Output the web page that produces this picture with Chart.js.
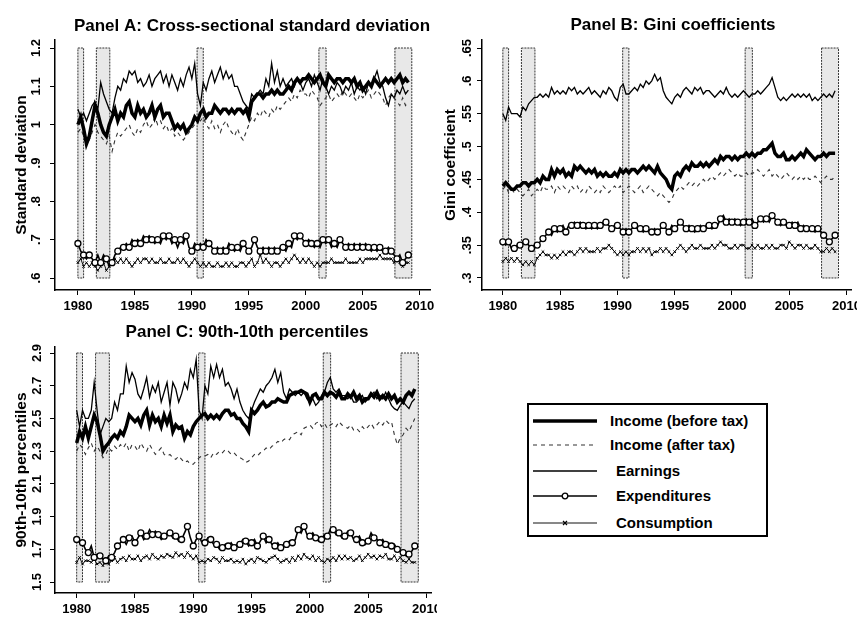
<!DOCTYPE html>
<html>
<head>
<meta charset="utf-8">
<title>Inequality panels</title>
<script src="https://cdn.jsdelivr.net/npm/chart.js@4.4.0/dist/chart.umd.min.js"></script>
<style>
  html, body { margin: 0; padding: 0; background: #fff; }
  body { position: relative; width: 857px; height: 620px; overflow: hidden; }
  canvas { position: absolute; }
  #panelA { left: 0; top: 0; }
  #panelB { left: 440px; top: 0; }
  #panelC { left: 0; top: 310px; }
  #legend {
    position: absolute; left: 527px; top: 403px; width: 237px; height: 130px;
    border: 2px solid #000; background: #fff;
    font: bold 15px "Liberation Sans", Arial, sans-serif; color: #000;
  }
  #legend .row { position: absolute; left: 0; width: 100%; height: 20px; }
  #legend svg { position: absolute; left: 4px; top: 5px; }
  #legend span { position: absolute; top: 0; line-height: 20px; white-space: nowrap; }
</style>
</head>
<body>
<canvas id="panelA" width="436" height="310"></canvas>
<canvas id="panelB" width="417" height="310"></canvas>
<canvas id="panelC" width="437" height="310"></canvas>
<div id="legend"></div>

<script>
// quarterly observations, 1980Q1 - 2009Q1
const quarters = [];
for (let i = 0; i < 117; i++) quarters.push(1980 + i / 4);

const seriesNames = ['Income (before tax)', 'Income (after tax)', 'Earnings', 'Expenditures', 'Consumption'];

const xTickValues = [1980, 1985, 1990, 1995, 2000, 2005, 2010];
const sdTicks = [0.6, 0.7, 0.8, 0.9, 1, 1.1, 1.2];
const giniTicks = [0.3, 0.35, 0.4, 0.45, 0.5, 0.55, 0.6, 0.65];
const pctTicks = [1.5, 1.7, 1.9, 2.1, 2.3, 2.5, 2.7, 2.9];

// NBER recessions (shaded bars)
const recessionStart = [1980.0, 1981.62, 1990.46, 2001.15, 2007.82];
const recessionEnd = [1980.5, 1982.8, 1991.0, 2001.78, 2009.3];

// Panel A: cross-sectional standard deviation
const sdIncome = [
  1.00,1.02,0.99,0.95, 0.97,1.01,1.05,1.03, 1.00,0.98,0.97,1.00,
  1.02,1.04,1.01,1.03, 1.02,1.05,1.06,1.03, 1.02,1.05,1.03,1.04,
  1.02,1.03,1.05,1.02, 1.04,1.05,1.02,1.03, 1.03,1.01,0.99,1.00,
  0.99,1.00,0.98,0.99, 1.00,1.02,1.01,1.03, 1.04,1.02,1.03,1.03,
  1.05,1.04,1.03,1.04, 1.04,1.03,1.04,1.03, 1.04,1.04,1.03,1.04,
  1.02,1.06,1.07,1.08, 1.08,1.07,1.08,1.08, 1.09,1.08,1.09,1.08,
  1.08,1.09,1.10,1.09, 1.11,1.12,1.11,1.12, 1.12,1.13,1.12,1.11,
  1.12,1.13,1.11,1.10, 1.13,1.12,1.11,1.12, 1.12,1.11,1.12,1.12,
  1.11,1.12,1.10,1.11, 1.09,1.10,1.11,1.10, 1.12,1.11,1.10,1.11,
  1.12,1.11,1.12,1.11, 1.12,1.13,1.11,1.12, 1.11
];
const sdAfterTax = [
  0.98,0.99,0.97,0.95, 0.96,0.98,1.00,0.98, 0.97,0.96,0.95,0.97,
  0.93,0.96,0.98,0.97, 0.98,0.99,1.00,0.98, 0.97,0.99,0.98,1.00,
  1.01,0.99,1.00,1.02, 1.00,1.01,0.99,1.00, 0.98,0.99,0.97,0.98,
  0.97,0.96,0.97,0.98, 0.99,1.00,1.02,1.01, 1.02,1.00,0.99,1.01,
  0.99,1.00,0.98,1.00, 1.01,0.99,0.98,0.97, 0.99,0.97,0.96,0.98,
  1.00,1.02,1.01,1.03, 1.02,1.04,1.03,1.02, 1.04,1.03,1.05,1.04,
  1.05,1.06,1.07,1.06, 1.08,1.07,1.09,1.08, 1.08,1.07,1.09,1.08,
  1.07,1.05,1.06,1.07, 1.08,1.06,1.07,1.08, 1.07,1.09,1.08,1.07,
  1.08,1.07,1.06,1.08, 1.07,1.08,1.09,1.07, 1.08,1.09,1.08,1.07,
  1.05,1.07,1.08,1.07, 1.06,1.05,1.07,1.05, 1.06
];
const sdEarnings = [
  1.04,1.02,1.03,1.01, 1.03,1.05,1.06,1.04, 1.11,1.08,1.06,1.04,
  1.03,1.07,1.10,1.09, 1.12,1.11,1.14,1.13, 1.14,1.11,1.12,1.10,
  1.11,1.13,1.10,1.12, 1.13,1.14,1.11,1.13, 1.10,1.13,1.11,1.09,
  1.12,1.10,1.13,1.15, 1.12,1.16,1.08,1.05, 1.11,1.09,1.12,1.14,
  1.11,1.13,1.15,1.12, 1.14,1.12,1.13,1.10, 1.10,1.08,1.06,1.05,
  1.04,1.08,1.07,1.08, 1.09,1.08,1.12,1.10, 1.16,1.11,1.14,1.10,
  1.12,1.10,1.11,1.12, 1.10,1.12,1.11,1.09, 1.11,1.12,1.10,1.13,
  1.11,1.09,1.12,1.10, 1.08,1.10,1.09,1.11, 1.10,1.08,1.10,1.09,
  1.11,1.08,1.10,1.09, 1.10,1.08,1.11,1.10, 1.12,1.14,1.11,1.10,
  1.07,1.05,1.08,1.07, 1.09,1.08,1.10,1.08, 1.09
];
const sdExpend = [
  0.69,0.67,0.66,0.65, 0.66,0.65,0.64,0.66, 0.64,0.66,0.65,0.63,
  0.64,0.66,0.67,0.68, 0.68,0.69,0.68,0.70, 0.69,0.70,0.69,0.71,
  0.70,0.71,0.70,0.69, 0.70,0.69,0.71,0.70, 0.71,0.69,0.70,0.68,
  0.70,0.69,0.71,0.68, 0.67,0.69,0.68,0.69, 0.68,0.70,0.69,0.68,
  0.67,0.68,0.67,0.68, 0.67,0.69,0.68,0.67, 0.68,0.67,0.69,0.68,
  0.67,0.68,0.70,0.68, 0.67,0.68,0.67,0.68, 0.67,0.68,0.67,0.68,
  0.68,0.67,0.69,0.68, 0.71,0.70,0.71,0.70, 0.69,0.70,0.69,0.68,
  0.69,0.68,0.70,0.69, 0.70,0.68,0.69,0.68, 0.70,0.69,0.68,0.69,
  0.68,0.69,0.68,0.69, 0.68,0.69,0.68,0.67, 0.68,0.67,0.68,0.67,
  0.67,0.68,0.67,0.66, 0.65,0.66,0.64,0.65, 0.66
];
const sdConsump = [
  0.64,0.65,0.63,0.64, 0.63,0.64,0.63,0.62, 0.63,0.64,0.62,0.63,
  0.64,0.65,0.64,0.65, 0.64,0.65,0.64,0.63, 0.64,0.65,0.64,0.65,
  0.65,0.64,0.65,0.64, 0.64,0.65,0.64,0.64, 0.65,0.64,0.64,0.65,
  0.64,0.65,0.64,0.63, 0.64,0.65,0.64,0.63, 0.64,0.63,0.64,0.63,
  0.63,0.64,0.63,0.63, 0.64,0.63,0.64,0.63, 0.63,0.64,0.64,0.63,
  0.64,0.65,0.63,0.64, 0.66,0.64,0.65,0.64, 0.63,0.64,0.64,0.63,
  0.64,0.65,0.64,0.65, 0.66,0.65,0.64,0.65, 0.64,0.65,0.64,0.63,
  0.64,0.63,0.64,0.64, 0.64,0.65,0.64,0.64, 0.64,0.64,0.65,0.64,
  0.64,0.64,0.64,0.65, 0.64,0.65,0.65,0.65, 0.65,0.65,0.66,0.65,
  0.65,0.65,0.65,0.64, 0.65,0.64,0.63,0.64, 0.64
];

// Panel B: Gini coefficients
const giniIncome = [
  .44,.445,.44,.435, .435,.44,.44,.445, .445,.44,.445,.445,
  .45,.445,.455,.45, .45,.465,.455,.465, .46,.465,.455,.46,
  .455,.47,.465,.47, .465,.46,.465,.46, .465,.455,.46,.455,
  .46,.455,.455,.46, .455,.465,.46,.465, .46,.465,.465,.46,
  .465,.47,.465,.47, .465,.46,.47,.46, .455,.45,.44,.435,
  .455,.46,.455,.465, .47,.465,.475,.47, .47,.475,.47,.475,
  .47,.475,.48,.475, .485,.48,.485,.485, .48,.485,.48,.485,
  .485,.49,.485,.49, .485,.49,.49,.495, .495,.50,.505,.49,
  .485,.485,.49,.48, .48,.485,.48,.485, .49,.485,.495,.49,
  .485,.48,.485,.485, .49,.485,.49,.49, .49
];
const giniAfterTax = [
  .435,.44,.43,.435, .43,.435,.43,.425, .43,.435,.425,.43,
  .435,.43,.44,.435, .435,.44,.43,.44, .435,.44,.435,.43,
  .44,.435,.44,.43, .435,.43,.44,.435, .43,.435,.43,.44,
  .435,.43,.435,.44, .435,.44,.43,.435, .44,.435,.43,.435,
  .44,.43,.435,.44, .435,.43,.425,.43, .425,.42,.415,.42,
  .43,.435,.44,.435, .44,.445,.44,.445, .44,.445,.45,.445,
  .45,.455,.45,.455, .46,.455,.46,.465, .46,.455,.46,.455,
  .455,.46,.455,.46, .46,.465,.46,.455, .46,.465,.455,.46,
  .455,.45,.455,.46, .455,.45,.455,.45, .455,.45,.455,.45,
  .45,.455,.45,.445, .45,.455,.45,.45, .455
];
const giniEarnings = [
  .55,.54,.56,.55, .55,.55,.545,.56, .555,.565,.57,.575,
  .575,.58,.575,.58, .575,.59,.58,.585, .58,.585,.58,.59,
  .585,.59,.58,.585, .58,.585,.59,.58, .585,.58,.575,.585,
  .58,.59,.585,.575, .57,.59,.595,.58, .58,.585,.59,.585,
  .595,.59,.60,.595, .60,.61,.60,.605, .585,.575,.57,.565,
  .575,.58,.575,.585, .59,.585,.58,.59, .585,.59,.58,.585,
  .585,.58,.575,.58, .585,.58,.59,.58, .575,.58,.575,.58,
  .585,.58,.575,.58, .58,.585,.58,.585, .59,.595,.605,.59,
  .575,.57,.575,.57, .575,.58,.575,.58, .575,.58,.575,.58,
  .57,.575,.57,.575, .58,.575,.58,.575, .585
];
const giniExpend = [
  .355,.35,.355,.345, .345,.35,.35,.355, .355,.35,.345,.35,
  .35,.355,.36,.365, .37,.365,.375,.37, .375,.38,.37,.38,
  .38,.385,.38,.385, .38,.375,.38,.375, .38,.375,.38,.385,
  .385,.38,.375,.38, .38,.375,.37,.375, .37,.375,.38,.375,
  .375,.37,.375,.37, .37,.375,.37,.375, .38,.375,.37,.38,
  .375,.38,.385,.38, .375,.38,.375,.37, .375,.38,.375,.38,
  .38,.375,.38,.38, .39,.395,.385,.39, .385,.39,.385,.38,
  .385,.39,.385,.39, .38,.385,.39,.385, .39,.385,.395,.39,
  .385,.38,.385,.38, .38,.385,.38,.385, .375,.38,.375,.375,
  .375,.37,.375,.37, .365,.36,.355,.36, .365
];
const giniConsump = [
  .325,.33,.325,.33, .325,.33,.325,.32, .325,.32,.325,.32,
  .33,.335,.34,.335, .335,.33,.335,.33, .335,.34,.335,.34,
  .34,.335,.34,.345, .34,.345,.34,.34, .34,.345,.34,.345,
  .345,.35,.345,.34, .335,.34,.335,.34, .335,.34,.34,.345,
  .34,.345,.34,.345, .335,.34,.34,.345, .34,.345,.34,.335,
  .34,.345,.35,.345, .34,.345,.35,.345, .345,.35,.345,.345,
  .345,.35,.345,.35, .355,.35,.35,.345, .345,.35,.345,.35,
  .35,.345,.345,.35, .345,.35,.345,.345, .35,.345,.35,.345,
  .345,.35,.35,.345, .355,.35,.345,.35, .35,.345,.35,.345,
  .345,.35,.345,.34, .34,.345,.34,.345, .34
];

// Panel C: 90th-10th percentiles
const pctIncome = [
  2.35,2.42,2.38,2.45, 2.38,2.45,2.52,2.48, 2.40,2.30,2.33,2.35,
  2.38,2.40,2.38,2.42, 2.40,2.45,2.52,2.50, 2.48,2.50,2.46,2.52,
  2.55,2.46,2.52,2.48, 2.50,2.45,2.52,2.47, 2.52,2.42,2.46,2.44,
  2.45,2.38,2.42,2.40, 2.45,2.48,2.50,2.52, 2.53,2.50,2.52,2.50,
  2.52,2.50,2.53,2.55, 2.55,2.52,2.53,2.50, 2.50,2.47,2.45,2.42,
  2.55,2.53,2.55,2.58, 2.60,2.57,2.58,2.60, 2.60,2.62,2.61,2.60,
  2.60,2.64,2.65,2.66, 2.66,2.67,2.66,2.65, 2.60,2.64,2.65,2.62,
  2.62,2.66,2.64,2.66, 2.65,2.63,2.66,2.62, 2.62,2.65,2.63,2.66,
  2.62,2.64,2.60,2.62, 2.62,2.65,2.63,2.66, 2.62,2.64,2.62,2.65,
  2.62,2.64,2.60,2.62, 2.60,2.64,2.66,2.64, 2.68
];
const pctAfterTax = [
  2.30,2.34,2.32,2.28, 2.32,2.35,2.30,2.33, 2.30,2.26,2.28,2.32,
  2.30,2.33,2.31,2.34, 2.32,2.35,2.30,2.34, 2.33,2.30,2.35,2.32,
  2.30,2.34,2.31,2.28, 2.30,2.32,2.28,2.27, 2.28,2.26,2.25,2.27,
  2.25,2.23,2.24,2.22, 2.22,2.24,2.26,2.27, 2.27,2.28,2.26,2.29,
  2.28,2.30,2.29,2.31, 2.30,2.28,2.29,2.27, 2.26,2.25,2.23,2.24,
  2.26,2.28,2.27,2.29, 2.30,2.32,2.31,2.33, 2.34,2.36,2.35,2.37,
  2.38,2.37,2.40,2.41, 2.42,2.40,2.44,2.45, 2.46,2.44,2.47,2.48,
  2.45,2.47,2.44,2.46, 2.47,2.45,2.48,2.46, 2.45,2.44,2.46,2.43,
  2.44,2.42,2.45,2.43, 2.45,2.47,2.44,2.46, 2.48,2.46,2.49,2.47,
  2.48,2.40,2.34,2.38, 2.40,2.44,2.42,2.46, 2.50
];
const pctEarnings = [
  2.55,2.45,2.55,2.50, 2.50,2.55,2.72,2.55, 2.40,2.45,2.50,2.48,
  2.50,2.60,2.55,2.65, 2.65,2.82,2.72,2.78, 2.74,2.65,2.62,2.68,
  2.75,2.63,2.70,2.66, 2.72,2.60,2.66,2.72, 2.58,2.72,2.68,2.60,
  2.65,2.72,2.68,2.80, 2.75,2.86,2.55,2.50, 2.70,2.65,2.82,2.75,
  2.83,2.75,2.80,2.70, 2.72,2.68,2.62,2.68, 2.60,2.55,2.52,2.50,
  2.55,2.60,2.64,2.68, 2.66,2.70,2.72,2.75, 2.80,2.72,2.78,2.66,
  2.62,2.68,2.66,2.64, 2.66,2.64,2.66,2.62, 2.60,2.62,2.58,2.60,
  2.64,2.66,2.72,2.75, 2.68,2.66,2.68,2.64, 2.64,2.62,2.64,2.60,
  2.60,2.62,2.64,2.60, 2.62,2.64,2.66,2.62, 2.64,2.62,2.66,2.62,
  2.58,2.56,2.55,2.58, 2.60,2.58,2.56,2.60, 2.62
];
const pctExpend = [
  1.76,1.75,1.74,1.70, 1.68,1.72,1.65,1.67, 1.66,1.64,1.63,1.66,
  1.65,1.68,1.72,1.74, 1.76,1.73,1.77,1.78, 1.74,1.77,1.80,1.76,
  1.78,1.82,1.79,1.81, 1.79,1.76,1.78,1.80, 1.80,1.77,1.78,1.75,
  1.76,1.80,1.84,1.77, 1.72,1.76,1.78,1.74, 1.74,1.77,1.76,1.73,
  1.73,1.70,1.71,1.73, 1.72,1.74,1.71,1.73, 1.73,1.76,1.75,1.72,
  1.74,1.76,1.72,1.75, 1.78,1.74,1.76,1.73, 1.72,1.74,1.71,1.73,
  1.73,1.75,1.74,1.76, 1.82,1.80,1.84,1.79, 1.78,1.80,1.77,1.75,
  1.76,1.79,1.78,1.82, 1.82,1.79,1.80,1.77, 1.78,1.81,1.80,1.76,
  1.76,1.78,1.74,1.73, 1.75,1.80,1.77,1.76, 1.74,1.76,1.73,1.74,
  1.72,1.73,1.70,1.69, 1.68,1.66,1.67,1.69, 1.72
];
const pctConsump = [
  1.62,1.65,1.61,1.63, 1.63,1.62,1.64,1.61, 1.62,1.60,1.63,1.61,
  1.63,1.65,1.62,1.64, 1.65,1.63,1.66,1.64, 1.64,1.66,1.63,1.65,
  1.66,1.64,1.67,1.65, 1.64,1.66,1.65,1.67, 1.66,1.65,1.68,1.66,
  1.67,1.65,1.68,1.66, 1.64,1.66,1.62,1.63, 1.62,1.64,1.63,1.65,
  1.64,1.62,1.65,1.63, 1.63,1.64,1.62,1.63, 1.62,1.64,1.61,1.63,
  1.64,1.62,1.65,1.64, 1.63,1.62,1.64,1.65, 1.66,1.64,1.62,1.63,
  1.64,1.62,1.65,1.63, 1.66,1.64,1.67,1.65, 1.64,1.66,1.63,1.65,
  1.63,1.62,1.64,1.63, 1.65,1.63,1.66,1.64, 1.66,1.64,1.65,1.63,
  1.64,1.66,1.63,1.65, 1.67,1.65,1.66,1.64, 1.66,1.65,1.67,1.64,
  1.64,1.66,1.63,1.65, 1.63,1.62,1.64,1.62, 1.62
];

const FONT = '"Liberation Sans", Arial, sans-serif';
const tickFont = { family: FONT, size: 13, weight: 'bold' };
const axisTitleFont = { family: FONT, size: 15.5, weight: 'bold' };

// one style per series, same order as seriesNames
const lineStyles = [
  { borderWidth: 3.5, borderColor: '#000', pointRadius: 0 },
  { borderWidth: 1.1, borderColor: '#333', borderDash: [4, 4], pointRadius: 0 },
  { borderWidth: 1.3, borderColor: '#000', pointRadius: 0 },
  { borderWidth: 1.6, borderColor: '#000', pointStyle: 'circle',
    pointRadius: c => (c.dataIndex % 2 ? 0 : 3),
    pointBackgroundColor: '#fff', pointBorderColor: '#000', pointBorderWidth: 1.3 },
  { borderWidth: 1, borderColor: '#111', pointStyle: 'crossRot', pointRadius: 1.8,
    pointBorderColor: '#000', pointBorderWidth: 1 }
];

// grey bars for recessions, drawn under the lines
const recessionShade = {
  id: 'recessionShade',
  beforeDatasetsDraw(chart) {
    const { ctx, scales: { x, y } } = chart;
    const top = y.getPixelForValue(y.ticks[y.ticks.length - 1].value);
    const bottom = y.getPixelForValue(y.ticks[0].value);
    ctx.save();
    recessionStart.forEach((start, i) => {
      const x1 = x.getPixelForValue(start);
      const x2 = x.getPixelForValue(recessionEnd[i]);
      ctx.fillStyle = 'rgba(0,0,0,0.09)';
      ctx.fillRect(x1, top, x2 - x1, bottom - top);
      ctx.strokeStyle = '#333';
      ctx.lineWidth = 1;
      ctx.setLineDash([2, 1]);
      ctx.strokeRect(x1, top, x2 - x1, bottom - top);
    });
    ctx.restore();
  }
};

const panelTitle = {
  id: 'panelTitle',
  afterDraw(chart, args, opts) {
    const ctx = chart.ctx;
    ctx.save();
    ctx.font = 'bold 17px ' + FONT;
    ctx.fillStyle = '#000';
    ctx.textAlign = 'center';
    ctx.textBaseline = 'alphabetic';
    ctx.fillText(opts.text, opts.x, opts.y);
    ctx.restore();
  }
};

function makePanel(id, cfg) {
  const datasets = cfg.series.map((vals, i) => Object.assign({
    label: seriesNames[i],
    data: vals.map((v, j) => ({ x: quarters[j], y: v })),
    tension: 0,
    fill: false
  }, lineStyles[i]));

  const axisLine = { display: true, color: '#000', width: 1.5 };
  const tickMarks = { drawOnChartArea: false, drawTicks: true, tickLength: 5, color: '#000', lineWidth: 1 };

  return new Chart(document.getElementById(id), {
    type: 'line',
    data: { datasets: datasets },
    options: {
      responsive: false,
      animation: false,
      events: [],
      layout: { padding: cfg.padding },
      plugins: {
        legend: { display: false },
        tooltip: { enabled: false },
        panelTitle: cfg.title
      },
      scales: {
        x: {
          type: 'linear',
          min: cfg.xMin,
          max: cfg.xMax,
          afterBuildTicks: s => { s.ticks = xTickValues.map(v => ({ value: v })); },
          afterFit: s => { s.height = cfg.xHeight; s.paddingLeft = 0; s.paddingRight = 0; },
          ticks: { font: tickFont, color: '#000', padding: 4, maxRotation: 0, autoSkip: false, callback: v => String(v) },
          grid: tickMarks,
          border: axisLine
        },
        y: {
          type: 'linear',
          min: cfg.yMin,
          max: cfg.yMax,
          afterBuildTicks: s => { s.ticks = cfg.yTicks.map(v => ({ value: v })); },
          afterFit: s => { s.width = cfg.yWidth; s.paddingTop = 0; s.paddingBottom = 0; },
          ticks: {
            font: tickFont, color: '#000', padding: cfg.yTickPad,
            minRotation: 90, maxRotation: 90, crossAlign: 'center', autoSkip: false,
            callback: v => String(v).replace(/^0\./, '.')
          },
          grid: tickMarks,
          border: axisLine,
          title: {
            display: true, text: cfg.yTitle, color: '#000', font: axisTitleFont,
            padding: { top: cfg.yTitlePad, bottom: 0 }
          }
        }
      }
    },
    plugins: [recessionShade, panelTitle]
  });
}

makePanel('panelA', {
  series: [sdIncome, sdAfterTax, sdEarnings, sdExpend, sdConsump],
  title: { text: 'Panel A: Cross-sectional standard deviation', x: 252, y: 31 },
  yTitle: 'Standard deviation',
  yTicks: sdTicks,
  padding: { left: 0, right: 3, top: 40, bottom: 0 },
  yWidth: 55, xHeight: 20,
  xMin: 1977.99, xMax: 2010.96,
  yMin: 0.5687, yMax: 1.2209,
  yTickPad: 5, yTitlePad: 12.7
});

makePanel('panelB', {
  series: [giniIncome, giniAfterTax, giniEarnings, giniExpend, giniConsump],
  title: { text: 'Panel B: Gini coefficients', x: 233, y: 30 },
  yTitle: 'Gini coefficient',
  yTicks: giniTicks,
  padding: { left: 0, right: 2, top: 40, bottom: 0 },
  yWidth: 42, xHeight: 20,
  xMin: 1978.18, xMax: 2010.45,
  yMin: 0.2817, yMax: 0.6622,
  yTickPad: 1, yTitlePad: 1.7
});

makePanel('panelC', {
  series: [pctIncome, pctAfterTax, pctEarnings, pctExpend, pctConsump],
  title: { text: 'Panel C: 90th-10th percentiles', x: 247, y: 27 },
  yTitle: '90th-10th percentiles',
  yTicks: pctTicks,
  padding: { left: 0, right: 5, top: 37, bottom: 0 },
  yWidth: 55, xHeight: 27,
  xMin: 1978.14, xMax: 2010.45,
  yMin: 1.4328, yMax: 2.9367,
  yTickPad: 4, yTitlePad: 12.7
});

// legend box (HTML), keys drawn as small svg samples
const legendRows = [16, 40, 66, 91, 118];
const legendTextLeft = [81, 81, 87, 87, 87];
const legend = document.getElementById('legend');
seriesNames.forEach((name, i) => {
  const st = lineStyles[i];
  const dash = st.borderDash ? ' stroke-dasharray="' + st.borderDash.join(' ') + '"' : '';
  let marker = '';
  if (i === 3) marker = '<circle cx="32" cy="5" r="2.8" fill="#fff" stroke="#000" stroke-width="1.3"/>';
  if (i === 4) marker = '<path d="M30 3 L34 7 M34 3 L30 7" stroke="#000" stroke-width="1.2"/>';
  const row = document.createElement('div');
  row.className = 'row';
  row.style.top = (legendRows[i] - 10) + 'px';
  row.innerHTML =
    '<svg width="64" height="10"><line x1="0" y1="5" x2="64" y2="5" stroke="' + st.borderColor +
    '" stroke-width="' + st.borderWidth + '"' + dash + '/>' + marker + '</svg>' +
    '<span style="left:' + legendTextLeft[i] + 'px">' + name + '</span>';
  legend.appendChild(row);
});
</script>
</body>
</html>
